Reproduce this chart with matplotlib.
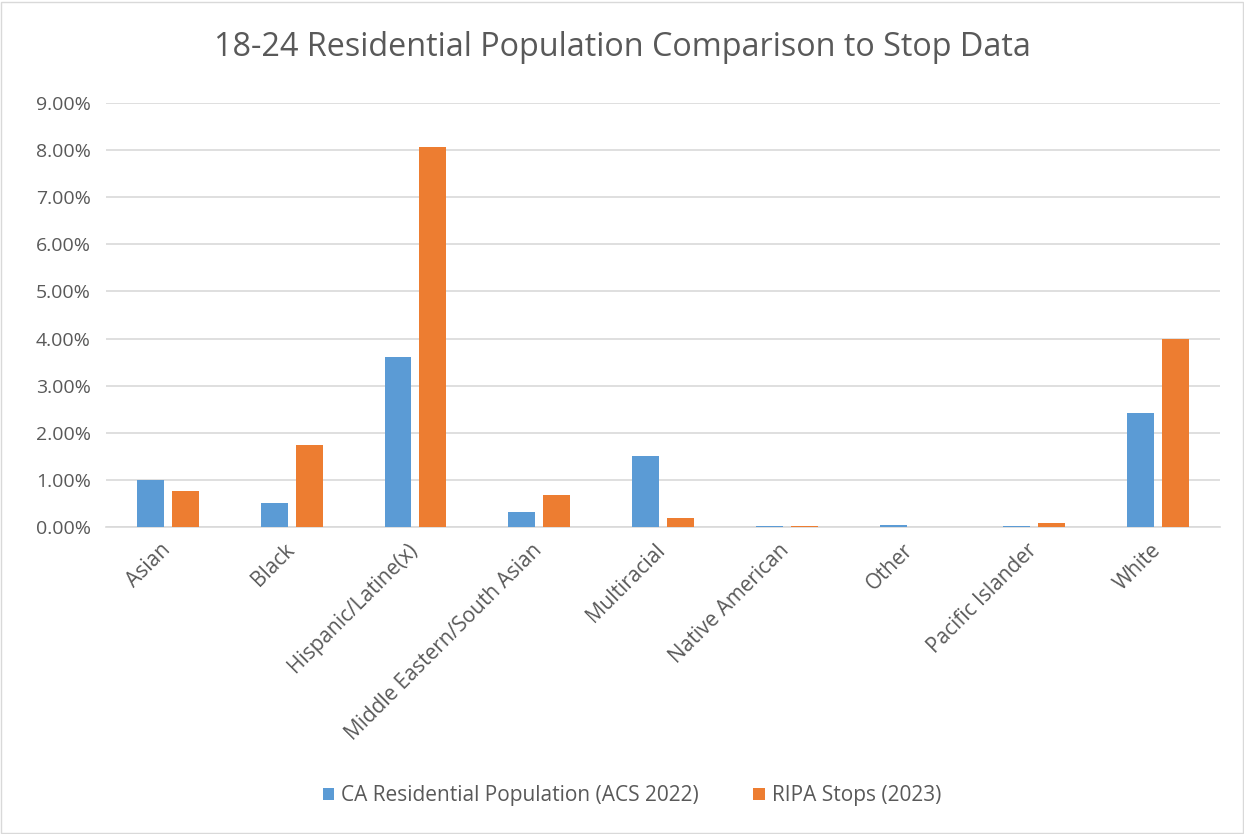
import numpy as np
import matplotlib.pyplot as plt
import matplotlib.transforms as mtransforms
from matplotlib.ticker import FuncFormatter
from matplotlib.patches import Rectangle

plt.rcParams['font.family'] = ['Open Sans', 'DejaVu Sans']

categories = ['Asian', 'Black', 'Hispanic/Latine(x)', 'Middle Eastern/South Asian',
              'Multiracial', 'Native American', 'Other', 'Pacific Islander', 'White']
ca_population = [1.00, 0.52, 3.61, 0.32, 1.51, 0.02, 0.05, 0.02, 2.41]
ripa_stops = [0.76, 1.73, 8.06, 0.68, 0.20, 0.03, 0.0, 0.09, 3.98]

blue = '#5B9BD5'
orange = '#ED7D31'
text_color = '#595959'

fig = plt.figure(figsize=(12.44, 8.34), dpi=100)
ax = fig.add_axes([106 / 1244, 1 - 527 / 834, (1220 - 106) / 1244, (527 - 103) / 834])

# light border round the whole chart, like the Excel chart area
fig.add_artist(Rectangle((0.001, 0.001), 0.998, 0.997, transform=fig.transFigure,
                         fill=False, edgecolor='#D9D9D9', linewidth=1))

x = np.arange(len(categories))
width = 0.218
offset = 0.141
ax.bar(x - offset, ca_population, width, color=blue, label='CA Residential Population (ACS 2022)', zorder=3)
ax.bar(x + offset, ripa_stops, width, color=orange, label='RIPA Stops (2023)', zorder=3)

ax.set_xlim(-0.5, len(categories) - 0.5)
ax.set_ylim(0, 9)
ax.set_yticks(np.arange(0, 9.5, 1))
ax.yaxis.set_major_formatter(FuncFormatter(lambda v, p: f'{v:.2f}%'))
ax.grid(axis='y', color='#D9D9D9', linewidth=1.2, zorder=0)
ax.set_axisbelow(True)

ax.set_xticks(x)
ax.set_xticklabels(categories, rotation=45, ha='right', rotation_mode='anchor')
ax.tick_params(axis='both', length=0, labelsize=14, colors=text_color)
ax.tick_params(axis='x', pad=9, labelsize=15)
ax.tick_params(axis='y', pad=11)

# excel puts the rotated labels a little left of the tick
shift = mtransforms.ScaledTranslation(-8 / 100, 0, fig.dpi_scale_trans)
for lbl in ax.get_xticklabels():
    lbl.set_transform(lbl.get_transform() + shift)

for side in ['top', 'right', 'left']:
    ax.spines[side].set_visible(False)
ax.spines['bottom'].set_color('#D9D9D9')
ax.spines['bottom'].set_linewidth(1.2)

fig.text(0.5, 1 - 48 / 834, '18-24 Residential Population Comparison to Stop Data',
         ha='center', va='center', fontsize=23.3, color=text_color)

fig.legend(loc='center', bbox_to_anchor=(0.508, 1 - 796 / 834), ncol=2, frameon=False,
           fontsize=15, handlelength=0.55, handleheight=0.55, columnspacing=2.6,
           handletextpad=0.35, labelcolor=text_color)

fig.savefig('out.png', dpi=100)
